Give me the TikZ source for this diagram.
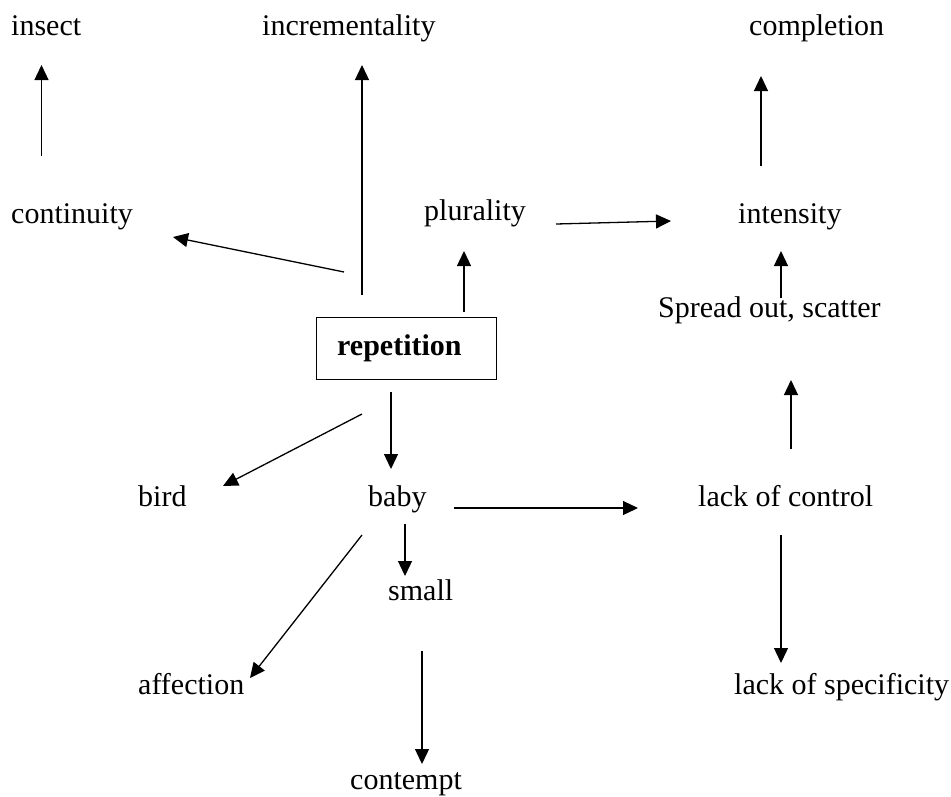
\documentclass[tikz,border=0pt]{standalone}
\usepackage{fontspec}
\setmainfont{Liberation Serif}
\usetikzlibrary{arrows.meta}
\begin{document}
\begin{tikzpicture}[x=1pt,y=-1pt,
  lbl/.style={inner sep=0pt,anchor=base west,font=\fontsize{30}{36}\selectfont},
  arr/.style={line width=1.3pt,-{Triangle[length=15pt,width=14pt]}},
  box/.style={draw,line width=1.3pt,anchor=north west,minimum width=180pt,minimum height=61.5pt,inner sep=0pt}]
\useasboundingbox (0,0) rectangle (951,796);
% nodes
\node[lbl] (insect) at (11,35) {insect};
\node[lbl] (incr) at (262,35) {incrementality};
\node[lbl] (compl) at (749,35) {completion};
\node[lbl] (cont) at (11,223) {continuity};
\node[lbl] (plur) at (424,220) {plurality};
\node[lbl] (inten) at (738,223) {intensity};
\node[lbl] (spread) at (658,317) {Spread out, scatter};
\node[box] (rep) at (316,317) {};
\node[lbl,font=\fontsize{30}{36}\selectfont\bfseries] (reptext) at (337,355) {repetition};
\node[lbl] (bird) at (138,506) {bird};
\node[lbl] (baby) at (368,506) {baby};
\node[lbl] (loc) at (698,506) {lack of control};
\node[lbl] (small) at (388,600) {small};
\node[lbl] (aff) at (138,694) {affection};
\node[lbl] (los) at (734,694) {lack of specificity};
\node[lbl] (contempt) at (350,789) {contempt};
% connector ends
\coordinate (contS) at (41.5,156);  \coordinate (insE) at (41.5,65);
\coordinate (repA) at (362,295);    \coordinate (incE) at (362,65);
\coordinate (repB) at (344,272);    \coordinate (contE) at (173,237);
\coordinate (repC) at (464,312);    \coordinate (plurE) at (464,251);
\coordinate (plurS) at (556,224);   \coordinate (intE) at (671,221);
\coordinate (intS) at (761,166);    \coordinate (compE) at (761,76);
\coordinate (sprS) at (781,298);    \coordinate (intE2) at (781,251);
\coordinate (locS) at (791,449);    \coordinate (sprE) at (791,380);
\coordinate (repD) at (362,414);    \coordinate (birdE) at (223,486);
\coordinate (repE) at (391,392);    \coordinate (babyE) at (391,469);
\coordinate (babyA) at (454,508);   \coordinate (locE) at (638,508);
\coordinate (babyB) at (405,524);   \coordinate (smallE) at (405,576);
\coordinate (babyC) at (362,535);   \coordinate (affE) at (250,678);
\coordinate (smallS) at (422,651);  \coordinate (contemptE) at (422,764);
\coordinate (locB) at (781,535);    \coordinate (losE) at (781,663);
% connectors
\draw[arr] (contS) -- (insE);
\draw[arr] (repA) -- (incE);
\draw[arr] (repB) -- (contE);
\draw[arr] (repC) -- (plurE);
\draw[arr] (plurS) -- (intE);
\draw[arr] (intS) -- (compE);
\draw[arr] (sprS) -- (intE2);
\draw[arr] (locS) -- (sprE);
\draw[arr] (repD) -- (birdE);
\draw[arr] (repE) -- (babyE);
\draw[arr] (babyA) -- (locE);
\draw[arr] (babyB) -- (smallE);
\draw[arr] (babyC) -- (affE);
\draw[arr] (smallS) -- (contemptE);
\draw[arr] (locB) -- (losE);
\end{tikzpicture}
\end{document}
